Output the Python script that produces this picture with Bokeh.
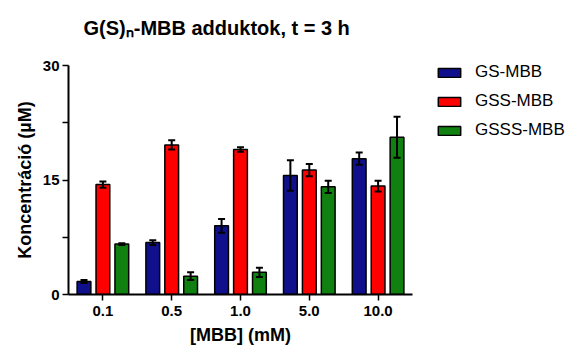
from bokeh.plotting import figure
from bokeh.models import (ColumnDataSource, FactorRange, Range1d, Whisker, TeeHead,
                          FixedTicker, Legend, LegendItem)
from bokeh.transform import dodge
from bokeh.embed import file_html
from bokeh.resources import INLINE

categories = ["0.1", "0.5", "1.0", "5.0", "10.0"]
gs = [1.7, 6.8, 9.0, 15.6, 17.8]
gs_err = [0.2, 0.3, 0.9, 2.0, 0.8]
gss = [14.4, 19.6, 19.0, 16.3, 14.2]
gss_err = [0.4, 0.6, 0.3, 0.8, 0.7]
gsss = [6.6, 2.4, 2.9, 14.1, 20.6]
gsss_err = [0.1, 0.5, 0.6, 0.8, 2.7]
series_names = ["GS-MBB", "GSS-MBB", "GSSS-MBB"]
colors = ["#10108c", "#ff0000", "#108010"]
title_text = "G(S)\u2099-MBB adduktok, t = 3 h"

FONT = "Liberation Sans"

data = dict(cat=categories)
for key, vals, errs in (("gs", gs, gs_err), ("gss", gss, gss_err), ("gsss", gsss, gsss_err)):
    data[key] = vals
    data[key + "_up"] = [v + e for v, e in zip(vals, errs)]
    data[key + "_lo"] = [v - e for v, e in zip(vals, errs)]
src = ColumnDataSource(data)

p = figure(frame_width=344, frame_height=229, x_range=FactorRange(*categories, range_padding=0),
           y_range=Range1d(0, 30), output_backend="svg", toolbar_location=None,
           min_border_left=68, min_border_right=164, min_border_top=65, min_border_bottom=55,
           title=title_text + "\n ")
p.outline_line_color = None
p.xgrid.grid_line_color = None
p.ygrid.grid_line_color = None

p.title.text_font = FONT
p.title.text_font_style = "bold"
p.title.text_font_size = "20px"
p.title.text_color = "black"
p.title.align = "left"
p.title.offset = 15
p.title.standoff = 10

offsets = [-0.275, 0.0, 0.275]
keys = ["gs", "gss", "gsss"]
items = []
for key, off, col, name in zip(keys, offsets, colors, series_names):
    r = p.vbar(x=dodge("cat", off, range=p.x_range), top=key, width=0.2, source=src,
               fill_color=col, line_color="black", line_width=1.5)
    items.append(LegendItem(label=name, renderers=[r]))
    w = Whisker(source=src, base=dodge("cat", off, range=p.x_range), upper=key + "_up",
                lower=key + "_lo", line_color="black", line_width=2, level="annotation",
                upper_head=TeeHead(size=7, line_width=2, line_color="black"),
                lower_head=TeeHead(size=7, line_width=2, line_color="black"))
    p.add_layout(w)

legend = Legend(items=items, location=(23, 154), margin=0, padding=0,
                border_line_color=None, background_fill_alpha=0,
                glyph_width=28, glyph_height=11, label_height=16, spacing=9,
                label_standoff=12, label_text_font=FONT, label_text_font_size="17px",
                label_text_color="black")
p.add_layout(legend, "right")

p.yaxis.ticker = FixedTicker(ticks=[0, 15, 30], minor_ticks=[7.5, 22.5])
p.yaxis.major_tick_out = 6
p.yaxis.major_tick_in = 0
p.yaxis.minor_tick_out = 6
p.yaxis.minor_tick_in = 0
p.yaxis.minor_tick_line_width = 1.5
p.xaxis.major_tick_out = 6
p.xaxis.major_tick_in = 0
p.xaxis.minor_tick_line_color = None
for ax in (p.xaxis, p.yaxis):
    ax.axis_line_width = 2
    ax.axis_line_color = "black"
    ax.major_tick_line_width = 1.5
    ax.major_tick_line_color = "black"
    ax.major_label_text_font = FONT
    ax.major_label_text_font_style = "bold"
    ax.major_label_text_font_size = "15px"
    ax.major_label_text_color = "black"
    ax.axis_label_text_font = FONT
    ax.axis_label_text_font_style = "bold"
    ax.axis_label_text_color = "black"
    ax.axis_label_text_font_size = "18px"
p.yaxis.major_label_standoff = 3
p.xaxis.major_label_standoff = 5
p.yaxis.axis_label = "Koncentráció (µM)"
p.yaxis.axis_label_standoff = 5
p.xaxis.axis_label = "[MBB] (mM)"
p.xaxis.axis_label_standoff = 6

open("out.html", "w").write(file_html(p, INLINE))
